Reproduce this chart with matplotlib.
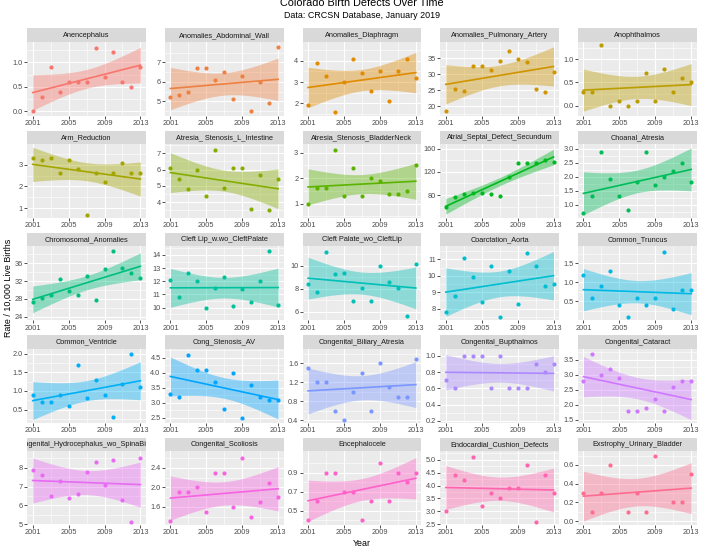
import numpy as np
import matplotlib
matplotlib.use('Agg')
import matplotlib.pyplot as plt

plt.rcParams['font.family'] = ['Liberation Sans', 'DejaVu Sans']

nan = np.nan
years = list(range(2001, 2014))

anencephalus = [0.0, 0.3, 0.9, 0.4, 0.6, 0.6, 0.6, 1.3, 0.7, 1.2, 0.6, 0.5, 0.9]
abdominal_wall = [5.2, 5.3, 5.5, 6.7, 6.7, 6.1, 6.5, 5.1, 6.3, 4.5, 6.0, 4.9, 7.8]
diaphragm = [1.9, 3.9, 3.3, 1.6, 3.0, 4.1, 3.4, 2.6, 3.5, 2.1, 3.5, 4.1, 3.2]
pulmonary_artery = [18.5, 25.4, 24.9, 32.4, 32.4, 31.3, 34.1, 37.2, 34.7, 33.7, 25.5, 24.4, 30.6]
anophthalmos = [0.3, 0.3, 1.3, 0.0, 0.1, 0.0, 0.1, 0.7, 0.1, 0.8, 0.3, 0.6, 0.5]
arm_reduction = [3.3, 3.2, 3.3, 2.6, 3.2, 2.8, 0.7, 2.6, 2.2, 2.6, 3.1, 2.6, 2.6]
l_intestine = [6.1, 5.4, 4.8, 6.0, 4.4, 7.2, 4.9, 6.1, 6.1, 3.6, 5.7, 3.5, 5.4]
bladder_neck = [1.0, 1.6, 1.6, 3.1, 1.3, 2.4, 1.3, 2.0, 1.9, 1.4, 1.4, 1.5, 2.5]
asd_secundum = [59, 77, 81, 84, 84, 82, 79, 111, 136, 135, 135, 141, 137]
choanal = [0.7, 1.3, 2.9, 1.9, 1.3, 0.8, 1.8, 2.9, 1.7, 2.0, 2.2, 2.5, 1.8]
chromosomal = [27.2, 28.2, 28.8, 32.5, 29.7, 28.8, 33.2, 27.8, 34.6, 38.7, 35.0, 33.7, 32.7]
cleft_lip = [12.1, 10.8, 12.6, 12.0, 10.0, 11.5, 12.3, 10.1, 11.4, 10.4, 12.0, 14.3, 10.2]
cleft_palate = [8.4, 7.7, 11.2, 9.3, 9.4, 6.9, 8.1, 6.9, 10.0, 8.6, 8.1, 5.6, 10.2]
coarctation = [7.8, 8.8, 11.1, 9.9, 8.4, 10.6, 7.5, 10.3, 8.3, 11.4, 10.6, 9.4, 9.5]
truncus = [1.2, 0.6, 0.9, 1.3, 0.4, 0.1, 0.6, 0.4, 0.6, 1.8, 0.3, 0.8, 0.8]
ventricle = [0.9, 0.7, 0.7, 0.9, 0.6, 1.7, 0.8, 1.3, 0.9, 0.3, 1.2, 2.0, 1.1]
stenosis_av = [3.3, 3.2, 4.6, 4.1, 4.1, 3.7, 2.8, 4.0, 2.5, 3.6, 3.2, 3.1, 3.1]
biliary = [1.5, 1.2, 1.2, 0.6, 0.4, 1.0, 1.4, 0.6, 1.6, 1.1, 0.9, 0.9, 1.7]
bupthalmos = [0.7, 0.6, 1.0, 1.0, 1.0, 0.6, 1.0, 0.6, 0.6, 0.6, 0.9, 0.8, 0.9]
cataract = [2.8, 3.7, 3.0, 3.2, 2.9, 1.8, 1.8, 1.9, 2.2, 1.8, 2.6, 2.8, 2.8]
hydrocephalus = [7.9, 7.6, 6.5, 7.3, 6.4, 6.6, 7.8, 8.3, 7.1, 8.4, 6.3, 5.1, 8.5]
scoliosis = [1.3, 1.9, 1.9, 2.0, 1.5, 2.3, 2.3, 1.6, 2.6, 1.4, 1.7, 2.1, 1.8]
encephalocele = [0.4, 0.6, 0.9, 0.9, 0.7, 0.7, 0.4, 0.6, 1.0, 0.6, 0.9, 0.8, 0.9]
endocardial = [3.0, 4.4, 4.2, 5.1, 3.2, 3.7, 3.5, 3.9, 3.9, 4.8, 2.6, 4.4, 3.7]
exstrophy = [0.3, 0.1, 0.3, 0.6, nan, 0.1, 0.3, 0.1, 0.7, nan, 0.2, 0.2, 0.5]

defect_names = [
    "Anencephalus", "Anomalies_Abdominal_Wall", "Anomalies_Diaphragm",
    "Anomalies_Pulmonary_Artery", "Anophthalmos",
    "Arm_Reduction", "Atresia_ Stenosis_L_Intestine", "Atresia_Stenosis_BladderNeck",
    "Atrial_Septal_Defect_Secundum", "Choanal_Atresia",
    "Chromosomal_Anomalies", "Cleft Lip_w.wo_CleftPalate", "Cleft Palate_wo_CleftLip",
    "Coarctation_Aorta", "Common_Truncus",
    "Common_Ventricle", "Cong_Stenosis_AV", "Congenital_Biliary_Atresia",
    "Congenital_Bupthalmos", "Congenital_Cataract",
    "Congenital_Hydrocephalus_wo_SpinaBifida", "Congenital_Scoliosis", "Encephalocele",
    "Endocardial_Cushion_Defects", "Exstrophy_Urinary_Bladder",
]
defect_values = [
    anencephalus, abdominal_wall, diaphragm, pulmonary_artery, anophthalmos,
    arm_reduction, l_intestine, bladder_neck, asd_secundum, choanal,
    chromosomal, cleft_lip, cleft_palate, coarctation, truncus,
    ventricle, stenosis_av, biliary, bupthalmos, cataract,
    hydrocephalus, scoliosis, encephalocele, endocardial, exstrophy,
]
y_ticks = [
    [0.0, 0.5, 1.0], [5, 6, 7], [2, 3, 4], [20, 25, 30, 35], [0.0, 0.5, 1.0],
    [1, 2, 3], [4, 5, 6, 7], [1, 2, 3], [80, 120, 160], [1.0, 1.5, 2.0, 2.5, 3.0],
    [24, 28, 32, 36], [10, 11, 12, 13, 14], [6, 8, 10], [8, 9, 10, 11], [0.5, 1.0, 1.5],
    [0.5, 1.0, 1.5, 2.0], [2.5, 3.0, 3.5, 4.0, 4.5], [0.4, 0.8, 1.2, 1.6],
    [0.2, 0.4, 0.6, 0.8, 1.0], [1.5, 2.0, 2.5, 3.0, 3.5],
    [5, 6, 7, 8], [1.6, 2.0, 2.4], [0.5, 0.7, 0.9], [2.5, 3.0, 3.5, 4.0, 4.5, 5.0],
    [0.0, 0.2, 0.4, 0.6],
]
# y-axis ranges of each panel
y_limits = [
    (-0.09, 1.42), (4.26, 8.06), (1.42, 4.89), (17.1, 40.1), (-0.22, 1.38),
    (0.55, 3.95), (3.04, 7.57), (0.44, 3.34), (40.5, 168.0), (0.52, 3.17),
    (23.2, 39.8), (9.04, 14.66), (5.25, 11.7), (7.29, 11.8), (0.0, 1.95),
    (0.15, 2.14), (2.33, 4.8), (0.35, 1.91), (0.18, 1.09), (1.41, 3.88),
    (4.96, 8.9), (1.23, 2.75), (0.35, 1.13), (2.47, 5.35), (-0.04, 0.75),
]
x_ticks = [2001, 2005, 2009, 2013]

title = "Colorado Birth Defects Over Time"
subtitle = "Data: CRCSN Database, January 2019"
x_label = "Year"
y_label = "Rate / 10,000 Live Births"

T975 = {9: 2.262157, 10: 2.228139, 11: 2.200985}


def hcl_hex(h, c=100.0, l=65.0):
    hr = np.deg2rad(h)
    u, v = c * np.cos(hr), c * np.sin(hr)
    Xn, Yn, Zn = 95.047, 100.0, 108.883
    Y = Yn * ((l + 16) / 116) ** 3
    den = Xn + 15 * Yn + 3 * Zn
    un, vn = 4 * Xn / den, 9 * Yn / den
    up, vp = u / (13 * l) + un, v / (13 * l) + vn
    X = Y * 9 * up / (4 * vp)
    Z = Y * (12 - 3 * up - 20 * vp) / (4 * vp)
    M = np.array([[3.240479, -1.537150, -0.498535],
                  [-0.969256, 1.875992, 0.041556],
                  [0.055648, -0.204043, 1.057311]])
    rgb = M @ (np.array([X, Y, Z]) / 100.0)
    rgb = np.where(rgb <= 0.0031308, 12.92 * rgb, 1.055 * np.abs(rgb) ** (1 / 2.4) - 0.055)
    return tuple(np.clip(rgb, 0, 1))


n_lv = len(defect_names)
hues = np.linspace(15, 375, n_lv + 1)[:n_lv]
colors = [hcl_hex(h) for h in hues]

W, H = 702, 548
fig = plt.figure(figsize=(W / 100, H / 100), dpi=100)


def px_axes(x, y, w, h):
    return fig.add_axes([x / W, 1 - (y + h) / H, w / W, h / H])


def fmt_ticks(ticks):
    dec = 0
    for t in ticks:
        s = f"{t:.6f}".rstrip('0')
        dec = max(dec, len(s.split('.')[1]))
    return [f"{t:.{dec}f}" for t in ticks]


PW, STRIP_H, PH = 118.5, 13.4, 74.0
for i, (name, vals) in enumerate(zip(defect_names, defect_values)):
    r, c = divmod(i, 5)
    left = 27.3 + 137.7 * c
    top = 28.3 + 102.3 * r
    col = colors[i]

    sax = px_axes(left, top, PW, STRIP_H)
    sax.set_facecolor('#D9D9D9')
    sax.set_xticks([]); sax.set_yticks([])
    for s in sax.spines.values():
        s.set_visible(False)
    sax.text(0.5, 0.48, name, ha='center', va='center', fontsize=5.3,
             color='#1A1A1A', transform=sax.transAxes, clip_on=True)

    ax = px_axes(left, top + STRIP_H, PW, PH)
    ax.set_facecolor('#EBEBEB')
    for s in ax.spines.values():
        s.set_visible(False)

    x = np.array(years, dtype=float)
    y = np.array(vals, dtype=float)
    m = ~np.isnan(y)
    xv, yv = x[m], y[m]
    n = len(xv)
    b1, b0 = np.polyfit(xv, yv, 1)
    resid = yv - (b0 + b1 * xv)
    sres = np.sqrt(np.sum(resid ** 2) / (n - 2))
    mx = xv.mean()
    sxx = np.sum((xv - mx) ** 2)
    xs = np.linspace(xv.min(), xv.max(), 80)
    fit = b0 + b1 * xs
    se = sres * np.sqrt(1.0 / n + (xs - mx) ** 2 / sxx)
    t = T975[n - 2]
    lo, hi = fit - t * se, fit + t * se

    ax.fill_between(xs, lo, hi, color=col, alpha=0.4, lw=0, zorder=2)
    ax.scatter(xv, yv, s=9, color=col, lw=0, zorder=3)
    ax.plot(xs, fit, color=col, lw=1.2, zorder=4)

    y0, y1 = y_limits[i]
    ax.set_ylim(y0, y1)
    ax.set_xlim(2001 - 0.6, 2013 + 0.6)

    yt = [v for v in y_ticks[i] if y0 <= v <= y1]
    ax.set_yticks(yt)
    ax.set_yticklabels(fmt_ticks(yt))
    step = y_ticks[i][1] - y_ticks[i][0]
    ext = [y_ticks[i][0] - step] + list(y_ticks[i]) + [y_ticks[i][-1] + step]
    yminor = [(a + b) / 2 for a, b in zip(ext[:-1], ext[1:])]
    ax.set_yticks([v for v in yminor if y0 <= v <= y1], minor=True)
    ax.set_xticks(x_ticks)
    ax.set_xticklabels([str(v) for v in x_ticks])
    ax.set_xticks([(a + b) / 2 for a, b in zip(x_ticks[:-1], x_ticks[1:])], minor=True)

    ax.grid(which='major', color='white', lw=0.8, zorder=0)
    ax.grid(which='minor', color='white', lw=0.4, zorder=0)
    ax.set_axisbelow(True)
    ax.tick_params(which='major', length=2.0, width=0.6, color='#333333',
                   labelsize=5.3, labelcolor='#4D4D4D', pad=1.2)
    ax.tick_params(which='minor', length=0)

fig.text(362 / W, 1 - 3.5 / H, title, ha='center', va='center', fontsize=7.8, color='black')
fig.text(362 / W, 1 - 16 / H, subtitle, ha='center', va='center', fontsize=6.4, color='black')
fig.text(8 / W, 1 - 288 / H, y_label, ha='center', va='center', rotation=90,
         fontsize=6.4, color='black')
fig.text(362 / W, 1 - 544 / H, x_label, ha='center', va='center', fontsize=6.4, color='black')

fig.savefig('out.png', dpi=100)
